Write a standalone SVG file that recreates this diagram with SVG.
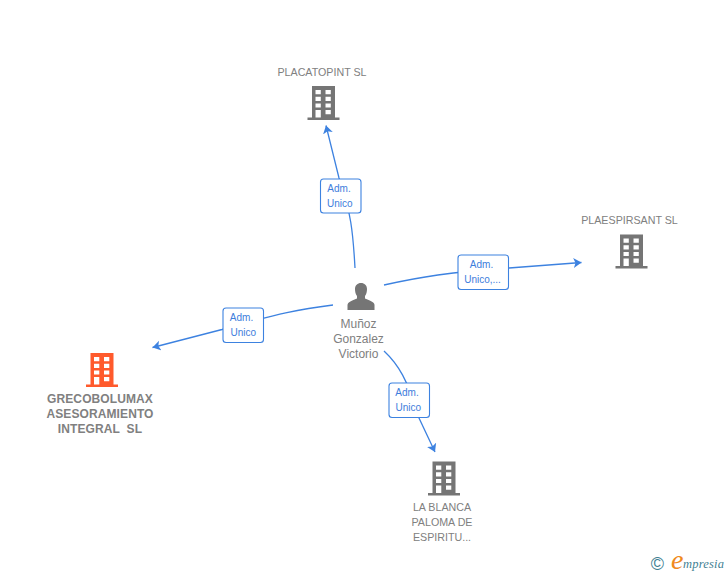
<svg xmlns="http://www.w3.org/2000/svg" width="728" height="575" viewBox="0 0 728 575">
<style>
.lbl{font-family:"Liberation Sans",Arial,sans-serif;font-size:10.700px;fill:#808080;text-anchor:middle}
.bold{font-weight:bold;font-size:12px;letter-spacing:.1px}
.edge{fill:none;stroke:#3d82e0;stroke-width:1.300}
.box{fill:#fff;stroke:#3d82e0;stroke-width:1.100}
.etxt{font-family:"Liberation Sans",Arial,sans-serif;font-size:10px;fill:#3d7ddc;text-anchor:middle}
</style>
<defs>
<marker id="arr" markerUnits="userSpaceOnUse" markerWidth="12" markerHeight="12" refX="8" refY="5" orient="auto">
<path d="M0 0L8 5L0 10L2 5Z" fill="#3d82e0"/>
</marker>
<symbol id="bld" viewBox="-16 0 32 34" width="32" height="34" overflow="visible">
<path fill-rule="evenodd" d="M-11.500 0H11.500V31.500H16V34H-16V31.500H-11.500ZM-8 4V8.200H-2.700V4ZM2 4V8.200H7.300V4ZM-8 10.700V14.900H-2.700V10.700ZM2 10.700V14.900H7.300V10.700ZM-8 17.400V21.600H-2.700V17.400ZM2 17.400V21.600H7.300V17.400ZM-8 24V31.500H-2.700V24ZM2 24V28.200H7.300V24Z"/>
</symbol>
</defs>
<g id="connectors">
<path class="edge" marker-end="url(#arr)" d="M355 268C353 232 351 212 339 178L326 125.500"/>
<path class="edge" marker-end="url(#arr)" d="M384 285C420 277 450 272 509 268L581.500 262.500"/>
<path class="edge" marker-end="url(#arr)" d="M333 305C300 309 280 313 222 329.500L152.500 347.500"/>
<path class="edge" marker-end="url(#arr)" d="M384 351C398 364 408 380 419 418L435 452"/>
<g>
<rect class="box" x="320.500" y="179" width="40.500" height="34" rx="3"/>
<text class="etxt" x="339" y="192">Adm.</text><text class="etxt" x="339.700" y="207">Unico</text>
</g>
<g>
<rect class="box" x="458" y="255" width="50.500" height="34.500" rx="3"/>
<text class="etxt" x="481.500" y="268">Adm.</text><text class="etxt" x="482.500" y="283">Unico,...</text>
</g>
<g>
<rect class="box" x="223" y="308" width="40.500" height="34.500" rx="3"/>
<text class="etxt" x="241.500" y="321">Adm.</text><text class="etxt" x="243.300" y="336">Unico</text>
</g>
<g>
<rect class="box" x="389" y="383" width="40.500" height="34.500" rx="3"/>
<text class="etxt" x="407" y="396">Adm.</text><text class="etxt" x="408.300" y="411">Unico</text>
</g>
</g>
<g id="node-placatopint">
<text class="lbl" x="322" y="76">PLACATOPINT SL</text>
<use href="#bld" x="307.500" y="86" fill="#757575"/>
</g>
<g id="node-plaespirsant">
<text class="lbl" x="629.500" y="224">PLAESPIRSANT SL</text>
<use href="#bld" x="615.500" y="234.500" fill="#757575"/>
</g>
<g id="node-grecobolumax">
<use href="#bld" x="86" y="353" fill="#ff5a2c"/>
<text class="lbl bold" x="100" y="403">GRECOBOLUMAX</text>
<text class="lbl bold" x="100" y="418">ASESORAMIENTO</text>
<text class="lbl bold" x="100" y="433" xml:space="preserve">INTEGRAL  SL</text>
</g>
<g id="node-la-blanca">
<use href="#bld" x="428" y="461.500" fill="#757575"/>
<text class="lbl" x="442" y="511">LA BLANCA</text>
<text class="lbl" x="442" y="526">PALOMA DE</text>
<text class="lbl" x="442" y="541">ESPIRITU...</text>
</g>
<g id="node-munoz">
<path fill="#757575" d="M347.500 310V305C347.500 302 352 300.500 357 298.500V296C355.500 294 355 291.500 355 289C355 285.500 357.500 283 361 283C364.500 283 367 285.500 367 289C367 291.500 366.500 294 365 296V298.500C370 300.500 374.500 302 374.500 305V310Z"/>
<text class="lbl" x="358.500" y="328" style="font-size:12px">Muñoz</text>
<text class="lbl" x="358.500" y="343" style="font-size:12px">Gonzalez</text>
<text class="lbl" x="358.500" y="358" style="font-size:12px">Victorio</text>
</g>
<g id="logo">
<text x="657.500" y="569.500" text-anchor="middle" style="font-family:'Liberation Sans',sans-serif;font-size:18px" fill="#3f7f93">©</text>
<text x="671" y="569" style="font-family:'Liberation Serif',serif;font-style:italic;font-size:28px" fill="#f08a1d">e</text>
<text x="683" y="568" style="font-family:'Liberation Serif',serif;font-style:italic;font-size:12.500px;letter-spacing:.2px" fill="#3f7f93">mpresia</text>
</g>
</svg>
